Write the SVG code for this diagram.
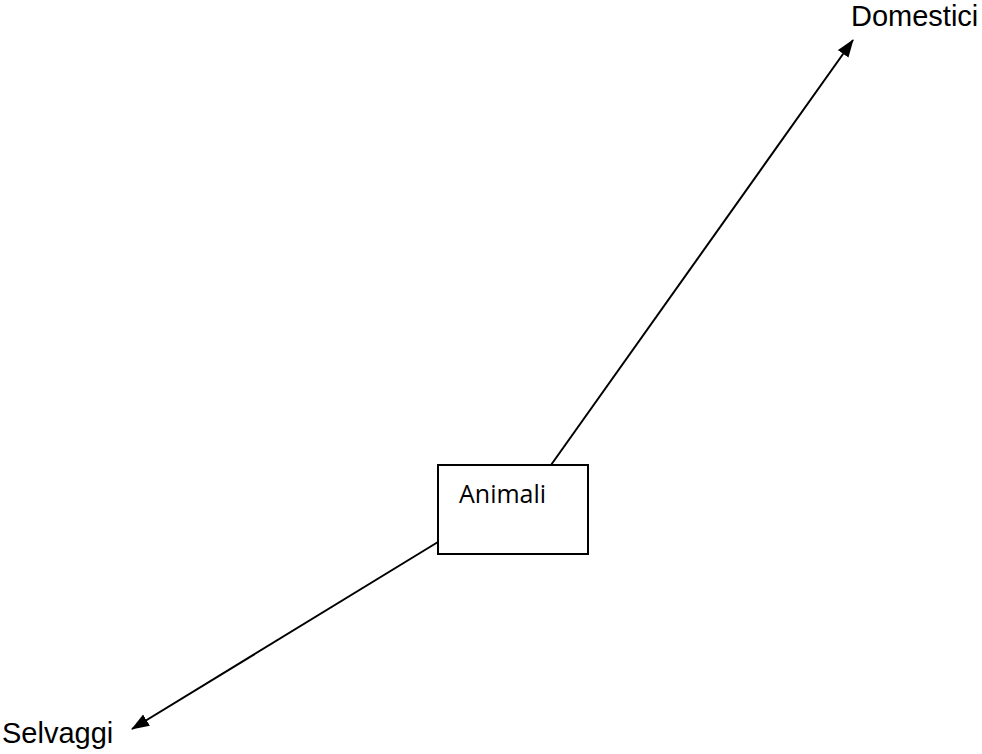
<svg xmlns="http://www.w3.org/2000/svg" width="982" height="754" viewBox="0 0 982 754">
<style>
.conn{stroke:#000;stroke-width:2;fill:none;marker-end:url(#arr)}
.box{fill:#fff;stroke:#000;stroke-width:2}
.lbl{font-family:"Liberation Sans",Arial,sans-serif;font-size:29px;fill:#000}
.inner{font-family:"Open Sans","Noto Sans",sans-serif;font-size:25px;fill:#000}
</style>
<defs>
<marker id="arr" markerUnits="userSpaceOnUse" markerWidth="20" markerHeight="14" refX="17" refY="6.5" orient="auto">
<path d="M0,0 L18,6.5 L0,13 z" fill="#000"/>
</marker>
</defs>
<rect width="982" height="754" fill="#fff"/>
<g id="connectors">
<line class="conn" x1="551" y1="465" x2="853" y2="40"/>
<line class="conn" x1="438" y1="542" x2="132" y2="729"/>
</g>
<g id="node-animali">
<rect class="box" x="438" y="465" width="150" height="89"/>
<text class="inner" x="459" y="503">Animali</text>
</g>
<g id="node-domestici">
<text class="lbl" x="851" y="26">Domestici</text>
</g>
<g id="node-selvaggi">
<text class="lbl" x="2" y="743">Selvaggi</text>
</g>
</svg>
